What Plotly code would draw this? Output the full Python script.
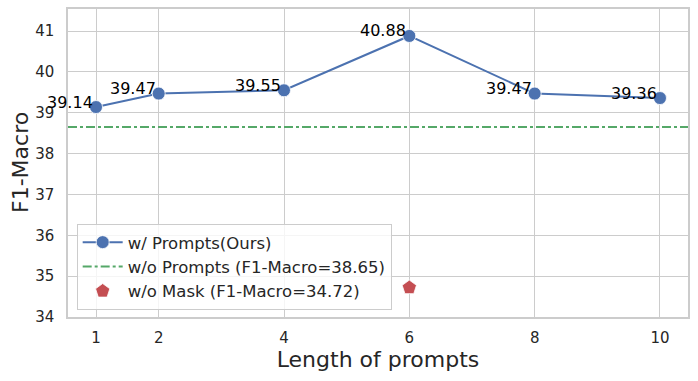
import plotly.graph_objects as go

lengths = [1, 2, 4, 6, 8, 10]
f1_prompts = [39.14, 39.47, 39.55, 40.88, 39.47, 39.36]
label_text = ["39.14", "39.47", "39.55", "40.88", "39.47", "39.36"]
baseline_no_prompts = 38.65
no_mask_x = 6
no_mask_val = 34.72
xticks = [1, 2, 4, 6, 8, 10]
yticks = [34, 35, 36, 37, 38, 39, 40, 41]
x_range = [0.553, 10.447]
y_range = [34, 41.54]

FONT = "DejaVu Sans"
blue = "#4c72b0"
green = "#55a868"
red = "#c44e52"

fig = go.Figure()
fig.add_trace(go.Scatter(
    x=lengths, y=f1_prompts, mode="lines+markers", name="w/ Prompts(Ours)",
    line=dict(color=blue, width=2),
    marker=dict(size=13, color=blue, line=dict(color="white", width=0.8)),
))
fig.add_trace(go.Scatter(
    x=x_range, y=[baseline_no_prompts, baseline_no_prompts], mode="lines",
    name="w/o Prompts (F1-Macro=38.65)",
    line=dict(color=green, width=2, dash="dashdot"),
))
fig.add_trace(go.Scatter(
    x=[no_mask_x], y=[no_mask_val], mode="markers",
    name="w/o Mask (F1-Macro=34.72)",
    marker=dict(size=15, color=red, symbol="pentagon", line=dict(color="white", width=0.8)),
))

for xv, yv, t in zip(lengths, f1_prompts, label_text):
    fig.add_annotation(x=xv, y=yv, text=t, showarrow=False,
                       xanchor="right", yanchor="middle", xshift=-1, yshift=5,
                       font=dict(family=FONT, size=16, color="black"))

# y-axis title as rotated annotation
fig.add_annotation(x=0, y=0.5, xref="paper", yref="paper", text="F1-Macro",
                   showarrow=False, textangle=-90, xanchor="center", yanchor="middle",
                   xshift=-48, font=dict(family=FONT, size=22, color="#262626"))

axis_common = dict(
    showgrid=True, gridcolor="#cccccc", gridwidth=1,
    showline=True, linecolor="#cccccc", linewidth=1.5, mirror=True,
    zeroline=False, ticks="", automargin=False,
    tickfont=dict(family=FONT, size=15, color="#262626"),
)

fig.update_xaxes(range=x_range, tickvals=xticks, ticktext=[str(v) for v in xticks],
                 title=dict(text="Length of prompts", font=dict(family=FONT, size=22, color="#262626"), standoff=2),
                 ticklabelstandoff=6, **axis_common)
fig.update_yaxes(range=y_range, tickvals=yticks,
                 ticklabelstandoff=9, **axis_common)

fig.update_layout(
    width=698, height=381,
    margin=dict(l=68, r=10, t=9, b=64),
    plot_bgcolor="white", paper_bgcolor="white",
    font=dict(family=FONT, color="#262626"),
    legend=dict(x=0.014, y=0.023, xanchor="left", yanchor="bottom",
                bgcolor="rgba(255,255,255,0.8)", bordercolor="#cccccc", borderwidth=1,
                font=dict(family=FONT, size=16.5, color="#262626"),
                tracegroupgap=0, itemwidth=40),
    showlegend=True,
)

fig.write_html("out.html", config={"displayModeBar": False},
               post_script="document.body.style.margin='0';document.body.style.padding='0';")
